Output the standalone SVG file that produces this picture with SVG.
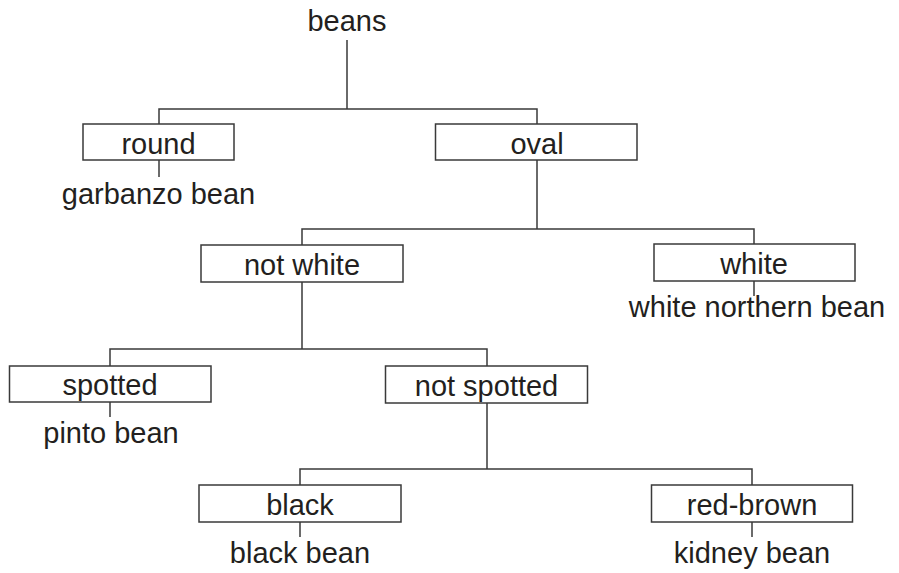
<svg xmlns="http://www.w3.org/2000/svg" width="899" height="573" viewBox="0 0 899 573">
<style>
  .box { fill: #ffffff; stroke: #3a3a3a; stroke-width: 1.5; }
  .conn { fill: none; stroke: #3a3a3a; stroke-width: 1.5; }
  text { font-family: "Liberation Sans", Arial, sans-serif; font-size: 29px; fill: #231f20; text-anchor: middle; }
</style>
<rect width="899" height="573" fill="#ffffff"/>
<g id="connectors">
  <path class="conn" d="M347 40 V109 M159 124 V109 H537 V124"/>
  <path class="conn" d="M159 160 V177"/>
  <path class="conn" d="M537 160 V229 M302 245 V229 H754 V244"/>
  <path class="conn" d="M754 281 V296"/>
  <path class="conn" d="M302 282 V349 M110 366 V349 H487 V366"/>
  <path class="conn" d="M110 402 V417"/>
  <path class="conn" d="M487 403 V469 M300 485 V469 H752 V485"/>
  <path class="conn" d="M300 522 V537"/>
  <path class="conn" d="M752 522 V537"/>
</g>
<g id="beans"><text x="347" y="31">beans</text></g>
<g id="round"><rect class="box" x="83" y="124" width="151" height="36"/><text x="158.5" y="154">round</text></g>
<g id="garbanzo"><text x="158.5" y="204">garbanzo bean</text></g>
<g id="oval"><rect class="box" x="435.5" y="124" width="201.5" height="36"/><text x="537" y="154">oval</text></g>
<g id="notwhite"><rect class="box" x="201" y="245" width="202" height="37"/><text x="302" y="275">not white</text></g>
<g id="white"><rect class="box" x="654" y="244" width="201" height="37"/><text x="754" y="274">white</text></g>
<g id="whitenorthern"><text x="757" y="317">white northern bean</text></g>
<g id="spotted"><rect class="box" x="9.5" y="366" width="201.5" height="36"/><text x="110" y="395">spotted</text></g>
<g id="pinto"><text x="111" y="443">pinto bean</text></g>
<g id="notspotted"><rect class="box" x="385.5" y="366" width="202" height="37"/><text x="486.5" y="396">not spotted</text></g>
<g id="black"><rect class="box" x="199" y="485" width="202" height="37"/><text x="300" y="515">black</text></g>
<g id="blackbean"><text x="300" y="563">black bean</text></g>
<g id="redbrown"><rect class="box" x="651.5" y="485" width="201" height="37"/><text x="752" y="515">red-brown</text></g>
<g id="kidney"><text x="752" y="563">kidney bean</text></g>
</svg>
